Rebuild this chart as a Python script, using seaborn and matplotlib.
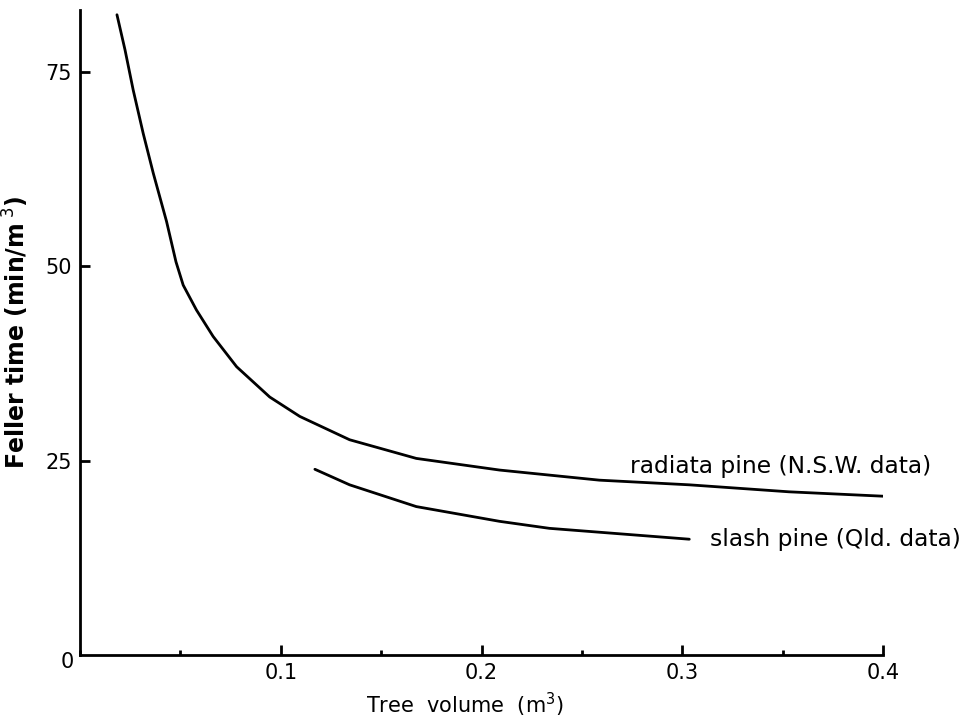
import matplotlib
matplotlib.use("Agg")
import pandas as pd
import seaborn as sns
import matplotlib.pyplot as plt
from matplotlib.ticker import MultipleLocator

# values
radiata_volume = [0.0184, 0.0224, 0.0265, 0.0315, 0.0365, 0.0431, 0.0478, 0.0514,
                  0.058, 0.0663, 0.078, 0.0945, 0.1095, 0.1343, 0.1675, 0.209,
                  0.2587, 0.3035, 0.3532, 0.403]
radiata_time = [82.4, 77.9, 72.7, 67.1, 62.0, 55.8, 50.6, 47.6,
                44.4, 41.0, 37.1, 33.2, 30.7, 27.7, 25.3, 23.8,
                22.5, 21.9, 21.0, 20.4]

slash_volume = [0.117, 0.1343, 0.1509, 0.1675, 0.209, 0.2338, 0.2587, 0.2786, 0.3035]
slash_time = [23.9, 21.9, 20.5, 19.1, 17.2, 16.3, 15.8, 15.4, 14.9]

x_major = [0.1, 0.2, 0.3, 0.4]
x_labels = ['0.1', '0.2', '0.3', '0.4']
y_major = [25, 50, 75]

radiata = pd.DataFrame({'volume': radiata_volume, 'time': radiata_time})
slash = pd.DataFrame({'volume': slash_volume, 'time': slash_time})

sns.set_style('ticks')
plt.rcParams['font.family'] = ['DejaVu Sans']
plt.rcParams['text.color'] = 'black'
plt.rcParams['axes.labelcolor'] = 'black'

fig = plt.figure(figsize=(9.77, 7.2), dpi=100)
ax = fig.add_axes([0.0819, 0.0903, 0.9038 - 0.0819, 0.986 - 0.0903])

sns.lineplot(data=radiata, x='volume', y='time', sort=False, color='black', lw=2, ax=ax)
sns.lineplot(data=slash, x='volume', y='time', sort=False, color='black', lw=2, ax=ax)

ax.set_xlim(0, 0.4)
ax.set_ylim(0, 83)
ax.set_xticks(x_major)
ax.set_xticklabels(x_labels)
ax.xaxis.set_minor_locator(MultipleLocator(0.05))
ax.set_yticks(y_major)
ax.tick_params(axis='both', which='major', direction='in', length=7, width=2,
               labelsize=15, pad=6, colors='black')
ax.tick_params(axis='x', which='minor', direction='in', length=3.5, width=2,
               colors='black')

sns.despine(ax=ax)
for s in ['left', 'bottom']:
    ax.spines[s].set_linewidth(2)
    ax.spines[s].set_color('black')

# shared origin label
ax.text(-0.0065, -0.9, '0', ha='center', va='center', fontsize=15)

ax.set_xlabel('Tree  volume  (m$^3$)', fontsize=15)
ax.xaxis.set_label_coords(0.479, -0.0775)
ax.xaxis.label.set_va('center')
ax.set_ylabel('Feller time (min/m$^{\\ 3}$)', fontsize=17, fontweight='bold')
ax.yaxis.set_label_coords(-0.08, 0.5)
ax.yaxis.label.set_va('center')

ax.text(0.2738, 24.3, 'radiata pine (N.S.W. data)', fontsize=16.8, va='center')
ax.text(0.3138, 14.8, 'slash pine (Qld. data)', fontsize=16.8, va='center')

fig.savefig('out.png', dpi=100)
